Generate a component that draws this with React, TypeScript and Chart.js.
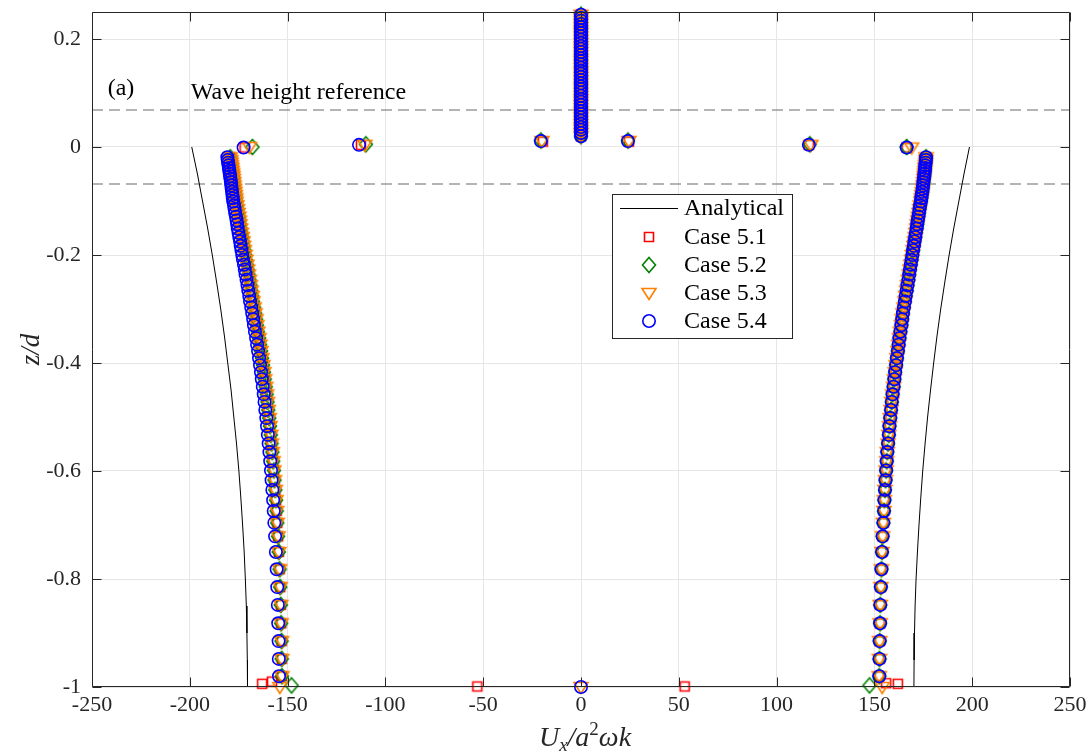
import React, { useEffect, useRef } from 'react';
import { Chart, registerables } from 'chart.js';

Chart.register(...registerables);

// ---------- axis / tick data ----------
const xMin = -250;
const xMax = 250;
const yMin = -1;
const yMax = 0.25;
const xTickValues = [-250, -200, -150, -100, -50, 0, 50, 100, 150, 200, 250];
const xTickLabels = ['-250', '-200', '-150', '-100', '-50', '0', '50', '100', '150', '200', '250'];
const yTickValues = [-1, -0.8, -0.6, -0.4, -0.2, 0, 0.2];
const yTickLabels = ['-1', '-0.8', '-0.6', '-0.4', '-0.2', '0', '0.2'];

// ---------- analytical profile ----------
const analyticalZ = [0, -0.05, -0.1, -0.15, -0.2, -0.25, -0.3, -0.35, -0.4, -0.45, -0.5, -0.55, -0.6, -0.65, -0.7, -0.75, -0.8, -0.85, -0.9, -0.95, -1];
const analyticalLeft = [-199.0, -196.1, -193.5, -190.9, -188.5, -186.3, -184.2, -182.3, -180.6, -178.9, -177.5, -176.1, -174.9, -173.9, -173.0, -172.2, -171.6, -171.1, -170.8, -170.6, -170.5];
const analyticalRight = [198.6, 195.8, 193.2, 190.6, 188.2, 186.0, 183.9, 182.0, 180.3, 178.7, 177.2, 175.9, 174.7, 173.7, 172.8, 172.0, 171.3, 170.8, 170.5, 170.3, 170.2];

// ---------- wave height reference ----------
const waveRefZ = [0.0685, -0.0685];

// ---------- numerical profiles (below the surface) ----------
const branchZ = [
  -0.980, -0.948, -0.915, -0.882, -0.848, -0.815, -0.782, -0.750, -0.721, -0.696,
  -0.674, -0.654, -0.635, -0.617, -0.599, -0.582, -0.565, -0.549, -0.533, -0.517,
  -0.502, -0.487, -0.472, -0.458, -0.444, -0.430, -0.417, -0.404, -0.391, -0.378,
  -0.366, -0.354, -0.342, -0.330, -0.319, -0.308, -0.297, -0.286, -0.276, -0.266,
  -0.256, -0.246, -0.236, -0.227, -0.218, -0.209, -0.200, -0.191, -0.183, -0.175,
  -0.167, -0.159, -0.151, -0.143, -0.136, -0.129, -0.122, -0.115, -0.108, -0.101,
  -0.095, -0.089, -0.083, -0.077, -0.071, -0.065, -0.059, -0.054, -0.049, -0.044,
  -0.039, -0.034, -0.029, -0.024, -0.019,
];
// Case 5.4 (blue circles)
const branchLeftU = [
  -154.4, -154.5, -154.6, -154.8, -155.0, -155.3, -155.6, -156.0, -156.4, -156.8,
  -157.1, -157.4, -157.8, -158.2, -158.5, -158.9, -159.3, -159.7, -160.1, -160.5,
  -160.9, -161.4, -161.8, -162.2, -162.7, -163.2, -163.6, -164.1, -164.6, -165.1,
  -165.6, -166.1, -166.7, -167.2, -167.6, -168.1, -168.6, -169.2, -169.6, -170.1,
  -170.5, -171.0, -171.5, -171.9, -172.3, -172.8, -173.2, -173.6, -174.0, -174.3,
  -174.7, -175.1, -175.5, -175.8, -176.1, -176.4, -176.8, -177.1, -177.4, -177.8,
  -178.0, -178.2, -178.4, -178.6, -178.8, -179.0, -179.2, -179.4, -179.6, -179.8,
  -180.0, -180.2, -180.4, -180.6, -180.8,
];
// Cases 5.1-5.3 (they sit a little to the right of 5.4 on the left branch)
const branchLeftUOther = [
  -152.9, -153.0, -153.1, -153.3, -153.5, -153.8, -154.1, -154.5, -154.9, -155.3,
  -155.6, -155.9, -156.3, -156.7, -157.0, -157.4, -157.8, -158.2, -158.6, -159.0,
  -159.4, -159.9, -160.3, -160.7, -161.2, -161.7, -162.1, -162.6, -163.1, -163.6,
  -164.1, -164.6, -165.2, -165.7, -166.1, -166.6, -167.1, -167.7, -168.1, -168.6,
  -169.0, -169.5, -170.0, -170.4, -170.8, -171.3, -171.7, -172.1, -172.5, -172.8,
  -173.2, -173.6, -174.0, -174.3, -174.6, -174.9, -175.3, -175.6, -175.9, -176.3,
  -176.5, -176.7, -176.9, -177.1, -177.3, -177.5, -177.7, -177.9, -178.1, -178.3,
  -178.5, -178.7, -178.9, -179.1, -179.3,
];
const branchRightU = [
  152.5, 152.6, 152.7, 152.9, 153.0, 153.3, 153.6, 153.9, 154.2, 154.6,
  154.9, 155.1, 155.4, 155.7, 156.0, 156.3, 156.6, 157.0, 157.4, 157.7,
  158.1, 158.5, 158.9, 159.3, 159.8, 160.2, 160.6, 161.1, 161.5, 162.0,
  162.4, 162.8, 163.3, 163.8, 164.2, 164.6, 165.1, 165.6, 166.0, 166.5,
  166.9, 167.4, 167.8, 168.2, 168.6, 169.0, 169.4, 169.8, 170.2, 170.5,
  170.9, 171.2, 171.6, 171.9, 172.2, 172.5, 172.8, 173.1, 173.4, 173.8,
  174.0, 174.2, 174.5, 174.7, 174.9, 175.1, 175.3, 175.5, 175.6, 175.8,
  175.9, 176.0, 176.2, 176.3, 176.4,
];

// ---------- column above the surface (Ux = 0) ----------
const columnU = 0;
const columnZ = [
  0.020, 0.026, 0.032, 0.037, 0.043, 0.049, 0.055, 0.061, 0.066, 0.072,
  0.078, 0.084, 0.089, 0.095, 0.101, 0.107, 0.112, 0.118, 0.124, 0.130,
  0.136, 0.141, 0.147, 0.153, 0.159, 0.164, 0.170, 0.176, 0.182, 0.187,
  0.193, 0.199, 0.205, 0.211, 0.216, 0.222, 0.228, 0.234, 0.239, 0.245,
];

// ---------- isolated surface / bottom points per case ----------
const case51X = [-172, -112.5, -19.5, 24.5, 116.5, 166.5, -163, -158, -53, 53, 156, 162];
const case51Z = [-0.001, 0.004, 0.010, 0.010, 0.004, -0.001, -0.994, -0.990, -0.999, -0.999, -0.993, -0.994];
const case52X = [-168, -110, -20.5, 24, 117, 166.5, -148, 147.5];
const case52Z = [0.0, 0.005, 0.012, 0.012, 0.005, 0.0, -0.997, -0.997];
const case53X = [-169.5, -110.5, -20, 24.5, 117.5, 169, -154, 0, 154];
const case53Z = [0.0, 0.004, 0.011, 0.011, 0.004, -0.001, -1.0, -1.0, -1.0];
const case54X = [-172.5, -113.5, -20.5, 24, 116.5, 166.5, 0];
const case54Z = [-0.001, 0.004, 0.011, 0.011, 0.004, -0.001, -1.0];

const legendLabels = ['Analytical', 'Case 5.1', 'Case 5.2', 'Case 5.3', 'Case 5.4'];
const caseColors = ['#ff0000', '#008000', '#ff8000', '#0000ff'];

const SERIF = '"Liberation Serif", "Times New Roman", serif';
const INK = '#262626';
const MARKER_LW = 1.6;

function pts(xs: number[], zs: number[]) {
  return xs.map((x, i) => ({ x, y: zs[i] }));
}

function caseData(leftU: number[], extraX: number[], extraZ: number[]) {
  return [
    ...pts(leftU, branchZ),
    ...pts(branchRightU, branchZ),
    ...columnZ.map((z) => ({ x: columnU, y: z })),
    ...pts(extraX, extraZ),
  ];
}

function traceMarker(ctx: CanvasRenderingContext2D, kind: string, cx: number, cy: number) {
  ctx.beginPath();
  if (kind === 'square') {
    ctx.rect(cx - 4.5, cy - 4.5, 9, 9);
  } else if (kind === 'diamond') {
    ctx.moveTo(cx, cy - 7.5);
    ctx.lineTo(cx + 6.5, cy);
    ctx.lineTo(cx, cy + 7.5);
    ctx.lineTo(cx - 6.5, cy);
    ctx.closePath();
  } else if (kind === 'triangle') {
    ctx.moveTo(cx - 7, cy - 4.5);
    ctx.lineTo(cx + 7, cy - 4.5);
    ctx.lineTo(cx, cy + 6.5);
    ctx.closePath();
  } else {
    ctx.arc(cx, cy, 6.2, 0, Math.PI * 2);
  }
}

function drawMarker(ctx: CanvasRenderingContext2D, kind: string, cx: number, cy: number, color: string) {
  ctx.save();
  ctx.strokeStyle = color;
  ctx.lineWidth = MARKER_LW;
  traceMarker(ctx, kind, cx, cy);
  ctx.stroke();
  ctx.restore();
}

function markerImage(kind: string, color: string) {
  const c = document.createElement('canvas');
  c.width = 20;
  c.height = 20;
  const g = c.getContext('2d') as CanvasRenderingContext2D;
  g.strokeStyle = color;
  g.lineWidth = MARKER_LW;
  traceMarker(g, kind, 10, 10);
  g.stroke();
  return c;
}

const overlayPlugin = {
  id: 'overlay',
  afterDraw(chart: any) {
    const { ctx, chartArea } = chart;
    const { left, right, top, bottom } = chartArea;
    const xs = chart.scales.x;
    const ys = chart.scales.y;
    ctx.save();

    // frame
    ctx.strokeStyle = INK;
    ctx.lineWidth = 1;
    const L = Math.round(left) + 0.5;
    const R = Math.round(right) - 0.5;
    const T = Math.round(top) + 0.5;
    const B = Math.round(bottom) - 0.5;
    ctx.beginPath();
    ctx.rect(L, T, R - L, B - T);
    ctx.stroke();

    // inward tick marks
    const tl = 9;
    ctx.beginPath();
    xTickValues.forEach((v) => {
      const px = Math.round(xs.getPixelForValue(v)) + 0.5;
      ctx.moveTo(px, B);
      ctx.lineTo(px, B - tl);
      ctx.moveTo(px, T);
      ctx.lineTo(px, T + tl);
    });
    yTickValues.forEach((v) => {
      const py = Math.round(ys.getPixelForValue(v)) + 0.5;
      ctx.moveTo(L, py);
      ctx.lineTo(L + tl, py);
      ctx.moveTo(R, py);
      ctx.lineTo(R - tl, py);
    });
    ctx.stroke();

    // annotations
    ctx.fillStyle = '#000';
    ctx.textBaseline = 'middle';
    ctx.textAlign = 'left';
    ctx.font = `24px ${SERIF}`;
    ctx.fillText('(a)', xs.getPixelForValue(-242), ys.getPixelForValue(0.108));
    ctx.fillText('Wave height reference', xs.getPixelForValue(-199.5), ys.getPixelForValue(0.101));

    // x-axis title: U_x / a^2 ω k
    {
      const big = `italic 28px ${SERIF}`;
      const small = `italic 19px ${SERIF}`;
      const smallUp = `19px ${SERIF}`;
      const parts: [string, string, number][] = [
        ['U', big, 0],
        ['x', small, 5],
        ['/a', big, 0],
        ['2', smallUp, -11],
        ['ωk', big, 0],
      ];
      let w = 0;
      parts.forEach(([t, f]) => {
        ctx.font = f;
        w += ctx.measureText(t).width;
      });
      let cx = (left + right) / 2 - w / 2 + 4;
      const base = 746;
      ctx.textBaseline = 'alphabetic';
      ctx.fillStyle = INK;
      parts.forEach(([t, f, dy]) => {
        ctx.font = f;
        ctx.fillText(t, cx, base + dy);
        cx += ctx.measureText(t).width;
      });
    }

    // y-axis title: z/d
    {
      ctx.save();
      ctx.translate(39, (top + bottom) / 2);
      ctx.rotate(-Math.PI / 2);
      ctx.font = `italic 27px ${SERIF}`;
      ctx.textAlign = 'center';
      ctx.textBaseline = 'alphabetic';
      ctx.fillStyle = INK;
      ctx.fillText('z/d', 0, 0);
      ctx.restore();
    }

    // legend
    {
      const bx = 612.5;
      const by = 194.5;
      const bw = 180;
      const bh = 144;
      ctx.fillStyle = '#ffffff';
      ctx.fillRect(bx, by, bw, bh);
      ctx.strokeStyle = INK;
      ctx.lineWidth = 1;
      ctx.strokeRect(bx, by, bw, bh);
      const rows = [208, 237, 265, 293, 321];
      const tx = 684;
      ctx.font = `24px ${SERIF}`;
      ctx.fillStyle = '#000';
      ctx.textBaseline = 'middle';
      ctx.textAlign = 'left';
      ctx.strokeStyle = '#000';
      ctx.lineWidth = 1;
      ctx.beginPath();
      ctx.moveTo(620, rows[0] + 0.5);
      ctx.lineTo(678, rows[0] + 0.5);
      ctx.stroke();
      const kinds = ['square', 'diamond', 'triangle', 'circle'];
      legendLabels.forEach((lab, i) => {
        ctx.fillStyle = '#000';
        ctx.fillText(lab, tx, rows[i] + 1);
        if (i > 0) drawMarker(ctx, kinds[i - 1], 649, rows[i], caseColors[i - 1]);
      });
    }

    ctx.restore();
  },
};

export default function App() {
  const ref = useRef<HTMLCanvasElement | null>(null);

  useEffect(() => {
    if (!ref.current) return;
    const markerCommon = {
      showLine: false,
      backgroundColor: 'rgba(0,0,0,0)',
      borderWidth: MARKER_LW,
      clip: false as any,
    };
    const chart = new Chart(ref.current, {
      type: 'scatter',
      data: {
        datasets: [
          {
            label: 'ref-top',
            data: [{ x: xMin, y: waveRefZ[0] }, { x: xMax, y: waveRefZ[0] }],
            showLine: true,
            borderColor: '#6a6a6a',
            borderWidth: 1.2,
            borderDash: [11, 6],
            pointRadius: 0,
            order: 10,
          },
          {
            label: 'ref-bottom',
            data: [{ x: xMin, y: waveRefZ[1] }, { x: xMax, y: waveRefZ[1] }],
            showLine: true,
            borderColor: '#6a6a6a',
            borderWidth: 1.2,
            borderDash: [11, 6],
            pointRadius: 0,
            order: 10,
          },
          {
            label: legendLabels[0],
            data: pts(analyticalLeft, analyticalZ),
            showLine: true,
            borderColor: '#000000',
            borderWidth: 1,
            pointRadius: 0,
            order: 9,
          },
          {
            label: 'analytical-right',
            data: pts(analyticalRight, analyticalZ),
            showLine: true,
            borderColor: '#000000',
            borderWidth: 1,
            pointRadius: 0,
            order: 9,
          },
          {
            label: legendLabels[1],
            data: caseData(branchLeftUOther, case51X, case51Z),
            pointStyle: markerImage('square', caseColors[0]),
            pointRadius: 6,
            order: 4,
            ...markerCommon,
          },
          {
            label: legendLabels[2],
            data: caseData(branchLeftUOther, case52X, case52Z),
            pointStyle: markerImage('diamond', caseColors[1]),
            pointRadius: 6,
            order: 3,
            ...markerCommon,
          },
          {
            label: legendLabels[3],
            data: caseData(branchLeftUOther, case53X, case53Z),
            pointStyle: markerImage('triangle', caseColors[2]),
            pointRadius: 6,
            order: 2,
            ...markerCommon,
          },
          {
            label: legendLabels[4],
            data: caseData(branchLeftU, case54X, case54Z),
            pointStyle: 'circle',
            pointRadius: 6.2,
            borderColor: caseColors[3],
            order: 1,
            ...markerCommon,
          },
        ],
      },
      options: {
        animation: false,
        responsive: false,
        events: [],
        layout: { padding: { left: 0, right: 20, top: 12, bottom: 0 } },
        plugins: {
          legend: { display: false },
          tooltip: { enabled: false },
          title: { display: false },
        },
        elements: { line: { tension: 0 } },
        scales: {
          x: {
            type: 'linear',
            min: xMin,
            max: xMax,
            afterFit: (s: any) => {
              s.height = 68;
              s.paddingLeft = 0;
              s.paddingRight = 0;
            },
            afterBuildTicks: (s: any) => {
              s.ticks = xTickValues.map((v) => ({ value: v }));
            },
            ticks: {
              callback: (_v: any, i: number) => xTickLabels[i],
              font: { family: SERIF, size: 22 },
              color: INK,
              padding: 5,
              maxRotation: 0,
              autoSkip: false,
            },
            grid: { color: '#e6e6e6', lineWidth: 1, drawTicks: false },
            border: { display: false },
          },
          y: {
            type: 'linear',
            min: yMin,
            max: yMax,
            afterFit: (s: any) => {
              s.width = 92;
              s.paddingTop = 0;
              s.paddingBottom = 0;
            },
            afterBuildTicks: (s: any) => {
              s.ticks = yTickValues.map((v) => ({ value: v }));
            },
            ticks: {
              callback: (_v: any, i: number) => yTickLabels[i],
              font: { family: SERIF, size: 22 },
              color: INK,
              padding: 11,
              autoSkip: false,
            },
            grid: { color: '#e6e6e6', lineWidth: 1, drawTicks: false },
            border: { display: false },
          },
        },
      } as any,
      plugins: [overlayPlugin],
    });
    return () => chart.destroy();
  }, []);

  return (
    <div style={{ position: 'fixed', left: 0, top: 0, width: 1090, height: 755, background: '#ffffff' }}>
      <canvas ref={ref} width={1090} height={755} style={{ display: 'block', width: 1090, height: 755 }} />
    </div>
  );
}
